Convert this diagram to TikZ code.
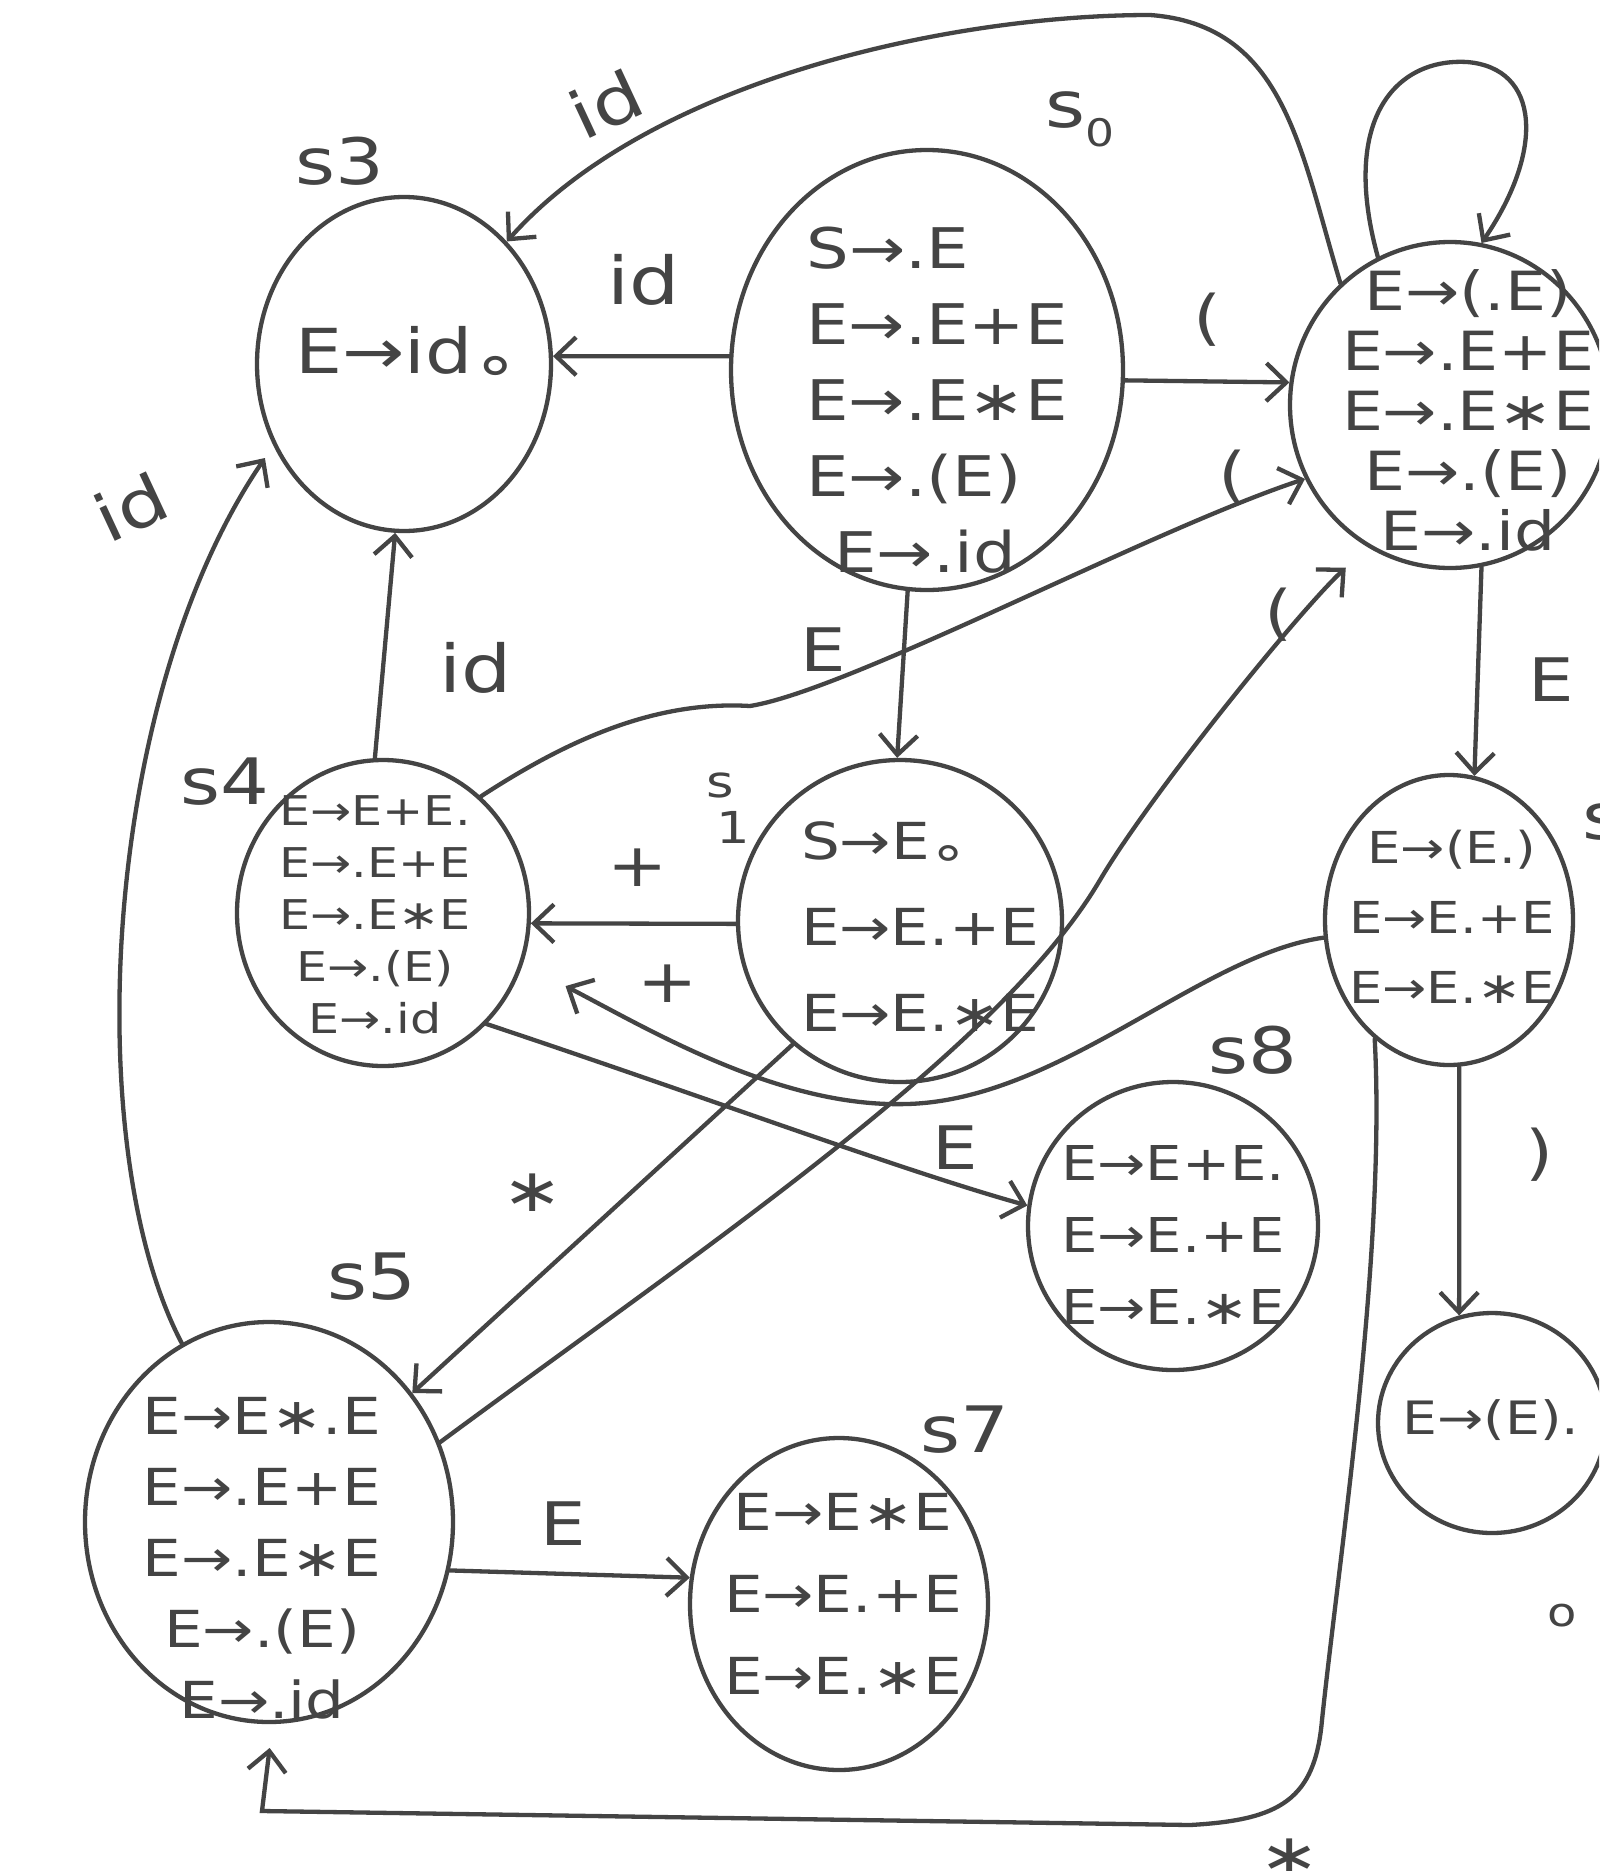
\documentclass[tikz,border=0pt]{standalone}
\usepackage{fontspec}
\setmainfont{DejaVu Sans}[FakeStretch=1.2]
\usetikzlibrary{shapes.geometric,arrows.meta}
\definecolor{ink}{RGB}{68,68,68}
\newcommand\ringdot{\raisebox{-0.18em}{∘}}
\newcommand\lowidx[1]{\raisebox{-0.3em}{\fontsize{38}{38}\selectfont #1}}

\tikzset{
  state/.style 2 args={ellipse, draw=ink, line width=4.3pt,
    minimum width=#1pt, minimum height=#2pt, inner sep=0pt},
  items/.style 2 args={font=\fontsize{#1}{#2}\selectfont, align=center,
    text=ink, inner sep=0pt},
  link/.style={draw=ink, line width=4.3pt, line cap=round,
    -{Straight Barb[length=20pt,width=38pt]}},
  lbl/.style={text=ink, inner sep=0pt, font=\fontsize{60}{60}\selectfont},
  statename/.style={text=ink, inner sep=0pt, font=\fontsize{64}{64}\selectfont},
}

\begin{document}
\begin{tikzpicture}[x=1pt,y=-1pt]
\useasboundingbox (0,0) rectangle (1599,1871);
\fill[white] (0,0) rectangle (1599,1871);
\clip (0,0) rectangle (1599,1871);

% states
\node[state={392}{440}] (s0) at (927,370) {};
\node[state={294}{334}] (s3) at (404,364) {};
\node[state={320}{326}] (s2) at (1450,405) {};
\node[state={248}{290}] (s6) at (1449,920) {};
\node[state={228}{220}] (s9) at (1492,1423) {};
\node[state={292}{306}] (s4) at (383,913) {};
\node[state={324}{322}] (s1) at (900,921) {};
\node[state={290}{288}] (s8) at (1173,1226) {};
\node[state={368}{400}] (s5) at (269,1522) {};
\node[state={298}{332}] (s7) at (839,1604) {};

% item sets
\node[items={56}{76}, align=left] (t0) at (937,400)
  {S→.E\\E→.E+E\\E→.E∗E\\E→.(E)\\\hspace*{28pt}E→.id};
\node[items={62}{62}] (t3) at (407,356) {E→id\ringdot};
\node[items={54}{60}] (t2) at (1468,410)
  {E→(.E)\\E→.E+E\\E→.E∗E\\E→.(E)\\E→.id};
\node[items={44}{70}] (t6) at (1452,917) {E→(E.)\\E→E.+E\\E→E.∗E};
\node[items={46}{46}] (t9) at (1491,1420) {E→(E).};
\node[items={41}{52}] (t4) at (375,915)
  {E→E+E.\\E→.E+E\\E→.E∗E\\E→.(E)\\E→.id};
\node[items={51}{86}, align=left] (t1) at (920,927) {S→E\ringdot\\E→E.+E\\E→E.∗E};
\node[items={48}{72}] (t8) at (1173,1235) {E→E+E.\\E→E.+E\\E→E.∗E};
\node[items={51}{71}] (t5) at (262,1558)
  {E→E∗.E\\E→.E+E\\E→.E∗E\\E→.(E)\\E→.id};
\node[items={51}{82}] (t7) at (843,1594) {E→E∗E\\E→E.+E\\E→E.∗E};

% state names
\node[statename] (n3) at (340,161) {s3};
\node[statename] (n0) at (1080,119) {s\lowidx{0}};
\node[statename] (n4) at (225,782) {s4};
\node[statename, align=left, font=\fontsize{44}{46}\selectfont] (n1) at (728,808)
  {s\\\hspace*{10pt}1};
\node[statename] (n8) at (1253,1050) {s8};
\node[statename] (n5) at (372,1277) {s5};
\node[statename] (n7) at (965,1430) {s7};
\node[statename, anchor=west] (n6) at (1582,822) {s};
\node[statename, font=\fontsize{40}{40}\selectfont] (nx) at (1562,1616) {o};

% transitions
\draw[link] (s0.176) -- (s3.3);
\node[lbl, font=\fontsize{66}{66}\selectfont] (l03) at (644,280) {id};

\draw[link] (s2.132) .. controls (1300,150) and (1285,25) .. (1150,15)
  .. controls (950,15) and (650,80) .. (s3.50);
\node[lbl, font=\fontsize{66}{66}\selectfont, rotate=25] (l23) at (606,104) {id};

\draw[link] (s0.357) -- (s2.172);
\node[lbl] (l02) at (1208,320) {(};

\draw[link] (s2.116) .. controls (1340,120) and (1395,58) .. (1467,62)
  .. controls (1540,68) and (1545,150) .. (s2.79);

\draw[link] (s0.265) -- (s1.91);
\node[lbl] (l01) at (823,650) {E};

\draw[link] (s4.93) -- (s3.267);
\node[lbl, font=\fontsize{66}{66}\selectfont] (l43) at (476,668) {id};

\draw[link] (s4.50) .. controls (560,745) and (650,700) .. (750,706)
  .. controls (850,690) and (1150,530) .. (s2.207);
\node[lbl] (l42) at (1233,477) {(};

\draw[link] (s1.181) -- (s4.356);
\node[lbl] (l14) at (638,868) {+};

\draw[link, shorten >=48pt] (s6.188) .. controls (1200,955) and (1060,1100) .. (907,1104)
  .. controls (780,1108) and (650,1030) .. (s4.340);
\node[lbl] (l64) at (668,984) {+};

\draw[link] (s1.229) -- (s5.42);
\node[lbl] (l15) at (533,1193) {∗};

\draw[link, shorten >=30pt] (s5.25) .. controls (700,1250) and (1000,1050) .. (1100,880)
  .. controls (1150,795) and (1300,610) .. (s2.240);
\node[lbl] (l52) at (1279,615) {(};

\draw[link] (s4.313) .. controls (700,1095) and (900,1170) .. (s8.172);
\node[lbl] (l48) at (955,1148) {E};

\draw[link] (s5.345) -- (s7.170);
\node[lbl] (l57) at (563,1524) {E};

\draw[link, shorten >=15pt] (s5.116) .. controls (80,1150) and (100,700) .. (s3.212);
\node[lbl, font=\fontsize{66}{66}\selectfont, rotate=25] (l53) at (131,507) {id};

\draw[link] (s2.281) -- (s6.80);
\node[lbl] (l26) at (1551,680) {E};

\draw[link] (s6.274) -- (s9.107);
\node[lbl] (l69) at (1540,1155) {)};

\draw[link, shorten >=24pt] (s6.238) .. controls (1386,1250) and (1340,1550) .. (1322,1720)
  .. controls (1315,1800) and (1280,1820) .. (1190,1825) -- (262,1811) -- (s5.271);
\node[lbl] (l65) at (1290,1858) {∗};
\end{tikzpicture}
\end{document}
